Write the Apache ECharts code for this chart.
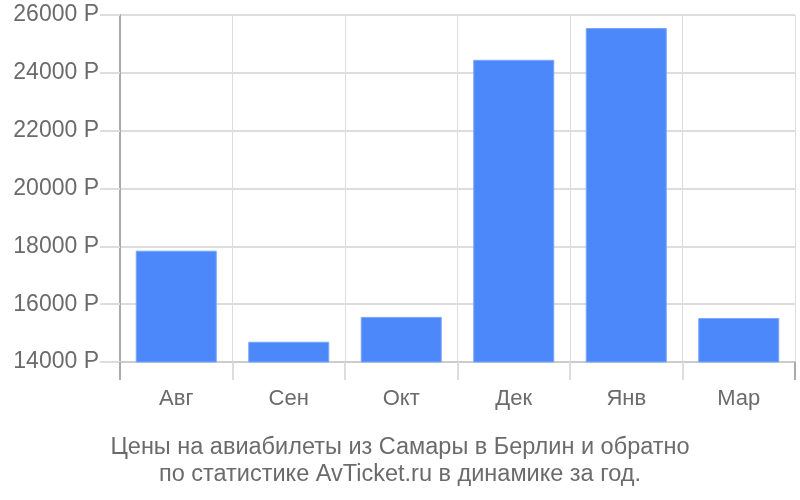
<!DOCTYPE html>
<html><head><meta charset="utf-8">
<script src="https://cdn.jsdelivr.net/npm/echarts@6/dist/echarts.min.js"></script>
<style>html,body{margin:0;padding:0;background:#fff}#c{width:800px;height:500px}</style>
</head><body><div id="c"></div>
<script>
const categories = ['Авг', 'Сен', 'Окт', 'Дек', 'Янв', 'Мар'];
const prices = [17850, 14700, 15560, 24450, 25550, 15520];
const yMin = 14000, yMax = 26000, yStep = 2000;
const titleLines = ['Цены на авиабилеты из Самары в Берлин и обратно', 'по статистике AvTicket.ru в динамике за год.'];

const font = 'Liberation Sans, Arial, sans-serif';
const chart = echarts.init(document.getElementById('c'), null, {renderer: 'canvas'});
chart.setOption({
  animation: false,
  title: {
    text: titleLines.join('\n'),
    left: 'center', top: 429,
    textStyle: {fontFamily: font, fontSize: 23.5, fontWeight: 'normal', color: '#6b6b6b', lineHeight: 27}
  },
  grid: {left: 120, right: 5, top: 15, bottom: 138},
  xAxis: [{
    type: 'category', data: categories, boundaryGap: true,
    axisLine: {show: true, lineStyle: {color: '#cccccc', width: 2}},
    axisTick: {show: true, length: 18, lineStyle: {color: '#dddddd', width: 2}},
    splitLine: {show: true, lineStyle: {color: '#dddddd', width: 1}},
    axisLabel: {margin: 26, fontFamily: font, fontSize: 22, color: '#6b6b6b'}
  }, {
    type: 'category', data: categories, boundaryGap: true, position: 'bottom',
    axisLine: {show: false},
    axisTick: {show: true, length: 18, interval: (i) => i === 0, lineStyle: {color: '#aaaaaa', width: 2}},
    axisLabel: {show: false}, splitLine: {show: false}
  }],
  yAxis: {
    type: 'value', min: yMin, max: yMax, interval: yStep,
    axisLine: {show: true, lineStyle: {color: '#aaaaaa', width: 2}},
    axisTick: {show: true, length: 20, lineStyle: {color: '#dddddd', width: 2}},
    splitLine: {show: true, lineStyle: {color: '#dddddd', width: 2}},
    axisLabel: {margin: 21, fontFamily: font, fontSize: 23, color: '#6b6b6b', formatter: v => v + ' Р'}
  },
  series: [{
    type: 'bar', data: prices, barWidth: '72%',
    itemStyle: {color: '#4d88fb', borderColor: '#7aa6fb', borderWidth: 1}
  }]
});
</script></body></html>
